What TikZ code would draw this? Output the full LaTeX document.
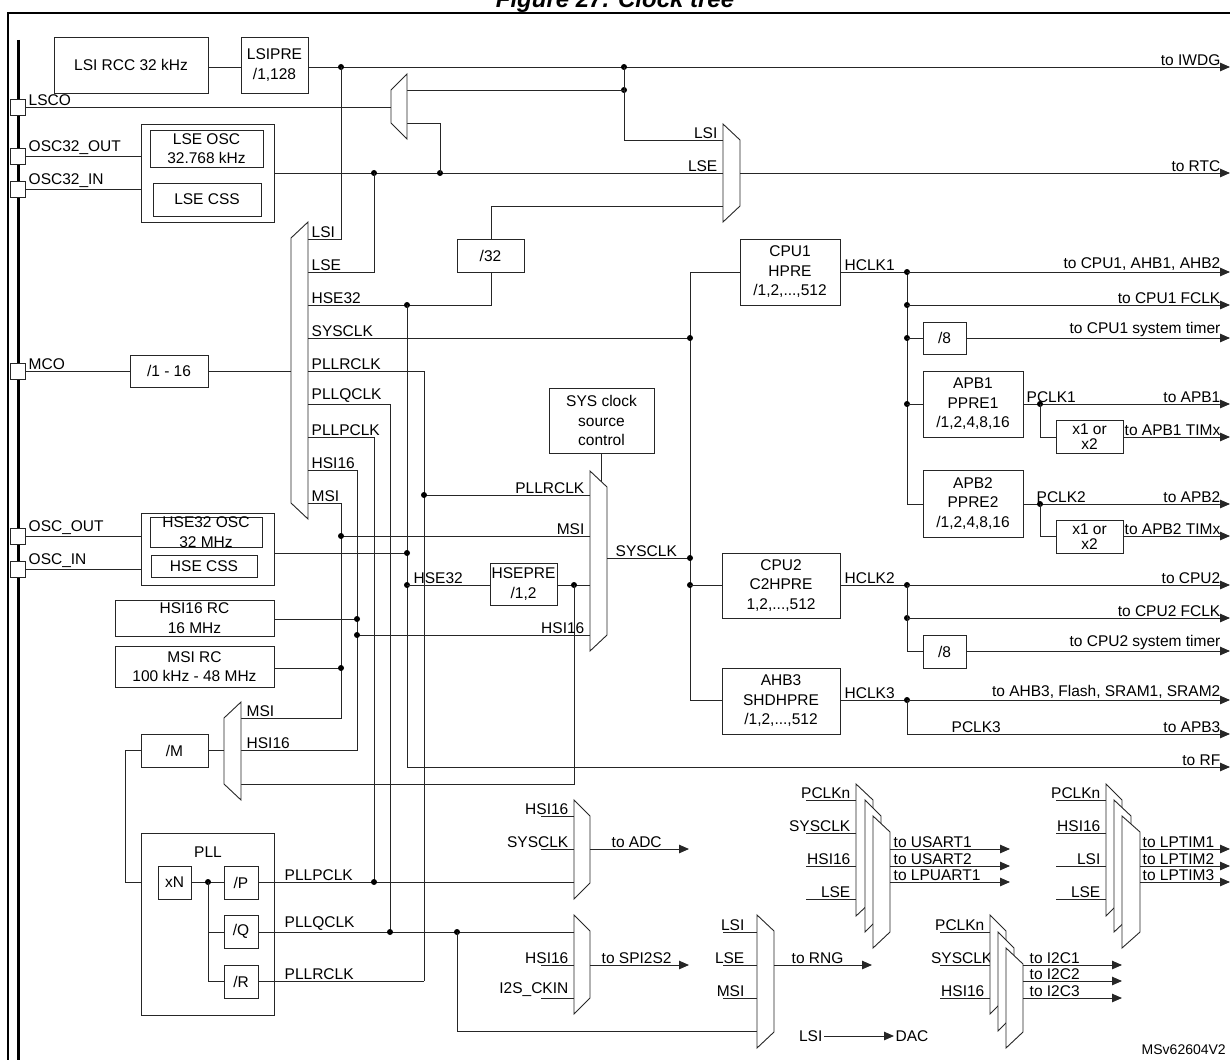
\documentclass[tikz,border=0pt]{standalone}
\usepackage{fontspec}
\setmainfont{Liberation Sans}
\usetikzlibrary{arrows.meta}
\begin{document}
\begin{tikzpicture}[x=1pt,y=-1pt,
  w/.style={line width=0.9pt,draw=black!85},
  bx/.style={w,fill=white},
  t/.style={inner sep=1.5pt,font=\fontsize{15.5}{19.5}\selectfont},
  la/.style={t,anchor=south west},
  ra/.style={t,anchor=south east},
  ar/.style={w,-{Triangle[length=10pt,width=8.5pt]}},
  dot/.style={circle,fill=black,inner sep=0pt,minimum size=6pt},
  font=\fontsize{15.5}{19.5}\selectfont]
\useasboundingbox (0,0) rectangle (1230,1059);
\clip (0,0) rectangle (1230,1059);
\newcommand\bx[6]{\draw[bx] (#2,#3) rectangle (#4,#5); \node[t,align=center] (#1) at ({(#2+#4)/2},{(#3+#5)/2}) {#6};}
\newcommand\muxR[5]{\draw[bx] (#2,#4) -- (#3,#4+16) -- (#3,#5-16) -- (#2,#5) -- cycle; \coordinate (#1) at (#3,{(#4+#5)/2});}
\newcommand\muxL[5]{\draw[bx] (#3,#4) -- (#2,#4+16) -- (#2,#5-16) -- (#3,#5) -- cycle; \coordinate (#1) at (#2,{(#4+#5)/2});}
\newcommand\pin[2]{\draw[bx] (10,#1-8) rectangle (25,#1+8); \node[la] at (27,#1) {#2};}
\newcommand\D[2]{\node[dot] at (#1,#2) {};}
% title and frame
\node[font=\bfseries\itshape\fontsize{24}{28}\selectfont,anchor=base] (title) at (615,8) {Figure 27. Clock tree};
\draw[line width=1.6pt] (8,1065) -- (8,13) -- (1235,13);
\draw[line width=3pt] (18,40) -- (18,1065);
\pin{107}{LSCO}
\pin{156}{OSC32\_OUT}
\pin{189}{OSC32\_IN}
\pin{371}{MCO}
\pin{536}{OSC\_OUT}
\pin{569}{OSC\_IN}
% LSI
\bx{lsi}{54}{37}{208}{93}{LSI RCC 32 kHz}
\bx{lsipre}{241}{37}{308}{93}{LSIPRE\\/1,128}
\draw[w] (208,67) -- (241,67);
\draw[ar] (308,67) -- (1230,67); \node[ra] at (1222,67) {to IWDG};
\D{341}{67}\D{624}{67}\D{624}{90}
\draw[w] (341,67) -- (341,239) -- (308,239);
% LSE osc
\draw[bx] (141,124) rectangle (274,222);
\bx{lseosc}{150}{130}{263}{167}{LSE OSC\\32.768 kHz}
\bx{lsecss}{153}{183}{261}{216}{LSE CSS}
\draw[w] (25,156) -- (141,156); \draw[w] (25,189) -- (141,189);
\draw[w] (274,173) -- (723,173);
\D{374}{173}\D{440}{173}
\draw[w] (374,173) -- (374,272) -- (308,272);
\draw[w] (25,107) -- (391,107);
\draw[w] (440,173) -- (440,123) -- (407,123);
\draw[w] (407,90) -- (624,90);
\muxL{lscomux}{391}{407}{74}{139}
% RTC mux
\draw[w] (624,67) -- (624,140) -- (723,140); \node[ra] at (719,140) {LSI};
\node[ra] at (719,173) {LSE};
\draw[w] (723,206) -- (491,206) -- (491,239);
\muxR{rtcmux}{723}{740}{124}{222}
\draw[ar] (740,173) -- (1230,173); \node[ra] at (1222,173) {to RTC};
\bx{div32}{457}{239}{524}{272}{/32}
\draw[w] (491,272) -- (491,305) -- (308,305);
\D{407}{305}
% MCO
\bx{mcodiv}{130}{355}{208}{387}{/1 - 16}
\draw[w] (25,371) -- (130,371); \draw[w] (208,371) -- (291,371);
\muxL{mcomux}{291}{308}{222}{519}
\node[la] at (310,239) {LSI};
\node[la] at (310,272) {LSE};
\node[la] at (310,305) {HSE32};
\node[la] at (310,338) {SYSCLK};
\node[la] at (310,371) {PLLRCLK};
\node[la] at (310,404) {PLLQCLK};
\node[la] at (310,437) {PLLPCLK};
\node[la] at (310,470) {HSI16};
\node[la] at (310,503) {MSI};
\draw[w] (308,338) -- (690,338);
\draw[w] (308,371) -- (424,371) -- (424,981);
\draw[w] (308,404) -- (390,404) -- (390,932);
\draw[w] (308,437) -- (374,437) -- (374,882);
\draw[w] (308,470) -- (357,470) -- (357,750) -- (241,750);
\draw[w] (308,503) -- (341,503) -- (341,718) -- (241,718);
% HSE
\draw[bx] (141,513) rectangle (274,585);
\bx{hseosc}{150}{517}{262}{547}{HSE32 OSC\\32 MHz}
\bx{hsecss}{151}{555}{257}{577}{HSE CSS}
\draw[w] (25,536) -- (141,536); \draw[w] (25,569) -- (141,569);
\draw[w] (274,553) -- (407,553);
\draw[w] (407,305) -- (407,767);
\draw[ar] (407,767) -- (1230,767); \node[ra] at (1222,767) {to RF};
\D{407}{553}\D{407}{585}
\draw[w] (407,585) -- (490,585); \node[la] at (412,585) {HSE32};
\bx{hsepre}{490}{563}{557}{605}{HSEPRE\\/1,2}
\draw[w] (557,585) -- (590,585); \D{574}{585}
\draw[w] (574,585) -- (574,784) -- (241,784);
\draw[w] (341,536) -- (590,536); \node[ra] at (586,536) {MSI};
\D{341}{536}
\bx{hsirc}{115}{600}{274}{636}{HSI16 RC\\16 MHz}
\bx{msirc}{115}{646}{274}{687}{MSI RC\\100 kHz - 48 MHz}
\draw[w] (274,619) -- (357,619); \D{357}{619}
\draw[w] (274,668) -- (341,668); \D{341}{668}
\draw[w] (357,635) -- (590,635); \D{357}{635} \node[ra] at (586,635) {HSI16};
\draw[w] (424,495) -- (590,495); \D{424}{495} \node[ra] at (586,495) {PLLRCLK};
% sys mux
\bx{sysctl}{549}{388}{654}{453}{SYS clock\\source\\control}
\draw[w] (601,453) -- (601,482);
\muxR{sysmux}{590}{607}{471}{651}
\draw[w] (607,558) -- (690,558); \node[la] at (614,558) {SYSCLK};
\draw[w] (690,272) -- (690,700) -- (722,700);
\draw[w] (690,272) -- (740,272);
\D{690}{338}\D{690}{558}\D{690}{585}
\draw[w] (690,585) -- (722,585);
% CPU1
\bx{hpre}{740}{239}{840}{305}{CPU1\\HPRE\\/1,2,...,512}
\draw[w] (840,272) -- (907,272); \node[la] at (843,272) {HCLK1};
\draw[w] (907,272) -- (907,504) -- (923,504);
\D{907}{272}\D{907}{305}\D{907}{338}\D{907}{404}
\draw[ar] (907,272) -- (1230,272); \node[ra] at (1222,272) {to CPU1, AHB1, AHB2};
\draw[ar] (907,305) -- (1230,305); \node[ra] at (1222,305) {to CPU1 FCLK};
\draw[w] (907,338) -- (923,338);
\bx{div8a}{923}{322}{966}{354}{/8}
\draw[ar] (966,338) -- (1230,338); \node[ra] at (1222,338) {to CPU1 system timer};
\draw[w] (907,404) -- (923,404);
\bx{apb1}{923}{371}{1023}{437}{APB1\\PPRE1\\/1,2,4,8,16}
\draw[ar] (1023,404) -- (1230,404); \node[la] at (1025,404) {PCLK1}; \node[ra] at (1222,404) {to APB1};
\D{1040}{404}
\draw[w] (1040,404) -- (1040,437) -- (1056,437);
\bx{x1a}{1056}{420}{1123}{453}{x1 or\\[-5pt]x2}
\draw[ar] (1123,437) -- (1230,437); \node[ra] at (1222,437) {to APB1 TIMx};
\bx{apb2}{923}{470}{1023}{537}{APB2\\PPRE2\\/1,2,4,8,16}
\draw[ar] (1023,504) -- (1230,504); \node[la] at (1035,504) {PCLK2}; \node[ra] at (1222,504) {to APB2};
\D{1040}{504}
\draw[w] (1040,504) -- (1040,536) -- (1056,536);
\bx{x1b}{1056}{520}{1123}{553}{x1 or\\[-5pt]x2}
\draw[ar] (1123,536) -- (1230,536); \node[ra] at (1222,536) {to APB2 TIMx};
% CPU2
\bx{c2hpre}{722}{553}{840}{618}{CPU2\\C2HPRE\\1,2,...,512}
\draw[w] (840,585) -- (907,585); \node[la] at (843,585) {HCLK2};
\D{907}{585}\D{907}{618}
\draw[w] (907,585) -- (907,651) -- (923,651);
\draw[ar] (907,585) -- (1230,585); \node[ra] at (1222,585) {to CPU2};
\draw[ar] (907,618) -- (1230,618); \node[ra] at (1222,618) {to CPU2 FCLK};
\bx{div8b}{923}{635}{966}{668}{/8}
\draw[ar] (966,651) -- (1230,651); \node[ra] at (1222,651) {to CPU2 system timer};
% AHB3
\bx{shdhpre}{722}{668}{840}{734}{AHB3\\SHDHPRE\\/1,2,...,512}
\draw[w] (840,700) -- (907,700); \node[la] at (843,700) {HCLK3};
\D{907}{700}
\draw[ar] (907,700) -- (1230,700); \node[ra] at (1222,700) {to AHB3, Flash, SRAM1, SRAM2};
\draw[ar] (907,700) -- (907,734) -- (1230,734); \node[la] at (950,734) {PCLK3}; \node[ra] at (1222,734) {to APB3};
% M mux and PLL
\muxL{mmux}{224}{241}{702}{800}
\node[la] at (245,718) {MSI};
\node[la] at (245,750) {HSI16};
\bx{mdiv}{141}{734}{208}{767}{/M}
\draw[w] (208,750) -- (224,750);
\draw[w] (141,750) -- (125,750) -- (125,882) -- (158,882);
\draw[bx] (141,833) rectangle (274,1015);
\node[t] (pll) at (208,852) {PLL};
\bx{xn}{158}{866}{191}{899}{xN}
\bx{pdiv}{224}{866}{258}{899}{/P}
\bx{qdiv}{224}{915}{258}{948}{/Q}
\bx{rdiv}{224}{965}{258}{998}{/R}
\draw[w] (191,882) -- (224,882); \D{208}{882}
\draw[w] (208,882) -- (208,981) -- (224,981); \draw[w] (208,932) -- (224,932);
\draw[w] (258,882) -- (574,882); \node[la] at (283,882) {PLLPCLK}; \D{374}{882}
\draw[w] (258,932) -- (574,932); \node[la] at (283,932) {PLLQCLK}; \D{390}{932}\D{457}{932}
\draw[w] (258,981) -- (424,981); \node[la] at (283,981) {PLLRCLK};
\draw[w] (457,932) -- (457,1031) -- (757,1031);
% ADC
\draw[w] (541,816) -- (574,816); \node[ra] at (570,816) {HSI16};
\draw[w] (541,849) -- (574,849); \node[ra] at (570,849) {SYSCLK};
\muxR{adcmux}{574}{590}{800}{899}
\draw[ar] (590,849) -- (689,849); \node[la] at (610,849) {to ADC};
% SPI
\draw[w] (541,965) -- (574,965); \node[ra] at (570,965) {HSI16};
\draw[w] (541,998) -- (574,998); \node[ra] at (570,998) {I2S\_CKIN};
\muxR{spimux}{574}{590}{915}{1014}
\draw[ar] (590,965) -- (689,965); \node[la] at (600,965) {to SPI2S2};
% RNG
\draw[w] (723,932) -- (757,932); \node[ra] at (746,932) {LSI};
\draw[w] (723,965) -- (757,965); \node[ra] at (746,965) {LSE};
\draw[w] (723,998) -- (757,998); \node[ra] at (746,998) {MSI};
\muxR{rngmux}{757}{774}{915}{1048}
\draw[ar] (774,965) -- (872,965); \node[la] at (790,965) {to RNG};
\node[t,anchor=east] (lsidac) at (824,1036) {LSI};
\node[t,anchor=west] (dac) at (894,1036) {DAC};
\draw[ar] (lsidac) -- (dac);
% USART
\draw[w] (806,800) -- (856,800); \node[ra] at (852,800) {PCLKn};
\draw[w] (806,833) -- (856,833); \node[ra] at (852,833) {SYSCLK};
\draw[w] (806,866) -- (856,866); \node[ra] at (852,866) {HSI16};
\draw[w] (806,899) -- (856,899); \node[ra] at (852,899) {LSE};
\muxR{us1}{856}{873}{784}{916}
\muxR{us2}{865}{881}{800}{932}
\muxR{us3}{873}{890}{816}{948}
\draw[ar] (890,849) -- (1010,849); \node[la] at (892,849) {to USART1};
\draw[ar] (890,866) -- (1010,866); \node[la] at (892,866) {to USART2};
\draw[ar] (890,882) -- (1010,882); \node[la] at (892,882) {to LPUART1};
% LPTIM
\draw[w] (1056,800) -- (1106,800); \node[ra] at (1102,800) {PCLKn};
\draw[w] (1056,833) -- (1106,833); \node[ra] at (1102,833) {HSI16};
\draw[w] (1056,866) -- (1106,866); \node[ra] at (1102,866) {LSI};
\draw[w] (1056,899) -- (1106,899); \node[ra] at (1102,899) {LSE};
\muxR{lp1}{1106}{1122}{784}{916}
\muxR{lp2}{1114}{1131}{800}{932}
\muxR{lp3}{1122}{1140}{816}{948}
\draw[ar] (1140,849) -- (1230,849); \node[la] at (1141,849) {to LPTIM1};
\draw[ar] (1140,866) -- (1230,866); \node[la] at (1141,866) {to LPTIM2};
\draw[ar] (1140,882) -- (1230,882); \node[la] at (1141,882) {to LPTIM3};
% I2C
\draw[w] (940,932) -- (990,932); \node[ra] at (986,932) {PCLKn};
\draw[w] (940,965) -- (990,965); \node[ra] at (994,965) {SYSCLK};
\draw[w] (940,998) -- (990,998); \node[ra] at (986,998) {HSI16};
\muxR{ic1}{990}{1006}{915}{1014}
\muxR{ic2}{998}{1014}{932}{1031}
\muxR{ic3}{1006}{1023}{948}{1048}
\draw[ar] (1023,965) -- (1122,965); \node[la] at (1028,965) {to I2C1};
\draw[ar] (1023,981) -- (1122,981); \node[la] at (1028,981) {to I2C2};
\draw[ar] (1023,998) -- (1122,998); \node[la] at (1028,998) {to I2C3};
\node[t,anchor=west,font=\fontsize{14}{16}\selectfont] (ms) at (1140,1050) {MSv62604V2};
\end{tikzpicture}
\end{document}
